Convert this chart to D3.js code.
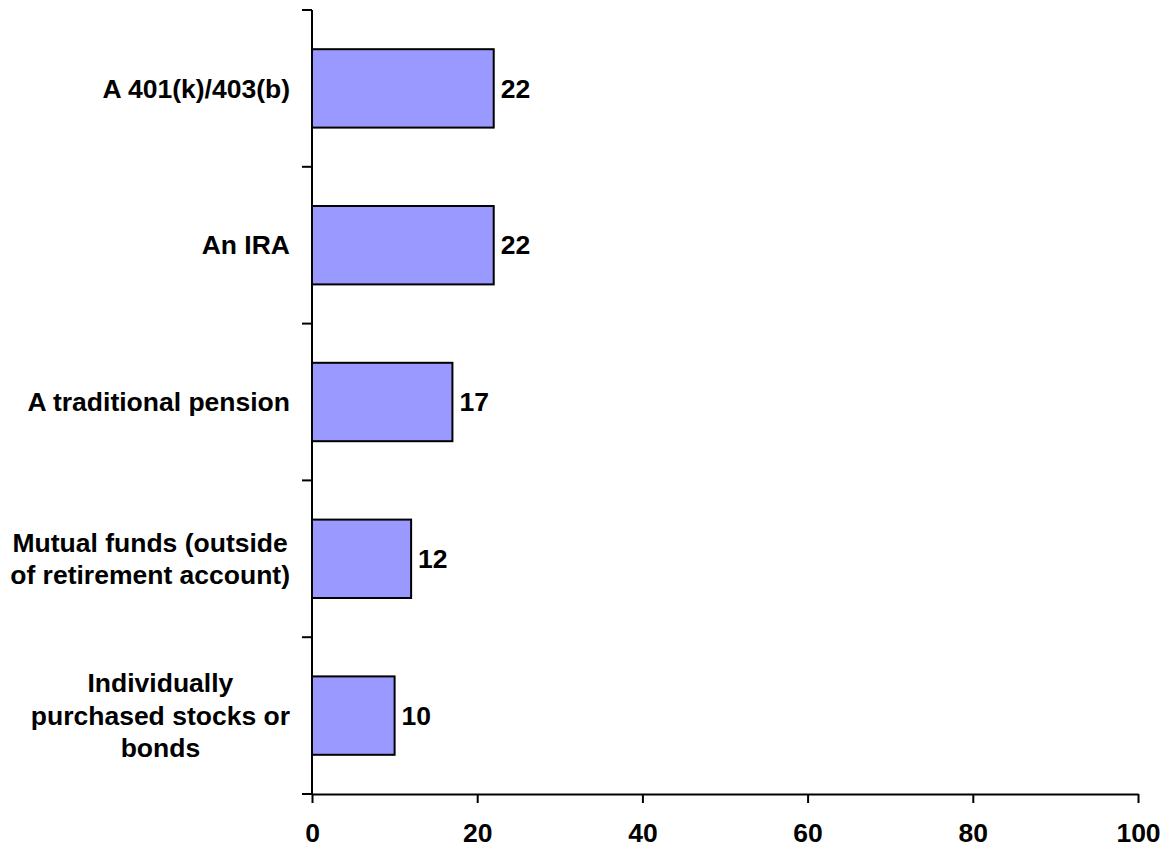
<!DOCTYPE html>
<html>
<head>
<meta charset="utf-8">
<script src="https://cdn.jsdelivr.net/npm/d3@7"></script>
<style>
  html, body { margin: 0; padding: 0; background: #fff; }
  svg text { font-family: Arial, "Liberation Sans", sans-serif; font-weight: bold; fill: #000; }
</style>
</head>
<body>
<svg id="chart" width="1171" height="848"></svg>
<script>
// Categories, top to bottom, with the line breaks used for their labels
const categories = [
  "A 401(k)/403(b)",
  "An IRA",
  "A traditional pension",
  "Mutual funds (outside of retirement account)",
  "Individually purchased stocks or bonds"
];
const categoryLines = [
  ["A 401(k)/403(b)"],
  ["An IRA"],
  ["A traditional pension"],
  ["Mutual funds (outside", "of retirement account)"],
  ["Individually", "purchased stocks or", "bonds"]
];
const values = [22, 22, 17, 12, 10];
const xTicks = [0, 20, 40, 60, 80, 100];

const W = 1171, H = 848;
const margin = { top: 10, right: 33, bottom: 54, left: 312 };
const fontSize = 26.5;

const svg = d3.select("#chart");

const x = d3.scaleLinear().domain([0, 100]).range([margin.left, W - margin.right]);
const y = d3.scaleBand().domain(categories)
  .range([margin.top, H - margin.bottom])
  .paddingInner(0.5).paddingOuter(0.25);

// Bars
svg.append("g").selectAll("rect")
  .data(categories)
  .join("rect")
  .attr("x", x(0))
  .attr("y", d => y(d))
  .attr("width", (d, i) => x(values[i]) - x(0))
  .attr("height", y.bandwidth())
  .attr("fill", "#9999FF")
  .attr("stroke", "#000")
  .attr("stroke-width", 2);

// Value labels
svg.append("g").selectAll("text")
  .data(categories)
  .join("text")
  .attr("x", (d, i) => x(values[i]) + 7)
  .attr("y", d => y(d) + y.bandwidth() / 2)
  .attr("dy", "0.35em")
  .style("font-size", fontSize + "px")
  .text((d, i) => values[i]);

// X axis
const xAxis = svg.append("g")
  .attr("transform", `translate(0,${H - margin.bottom})`)
  .call(d3.axisBottom(x).tickValues(xTicks).tickSize(9).tickPadding(20).tickSizeOuter(0));
xAxis.select(".domain").attr("stroke", "#000").attr("stroke-width", 2);
xAxis.selectAll(".tick line").attr("stroke", "#000").attr("stroke-width", 2);
xAxis.selectAll(".tick text")
  .style("font-size", fontSize + "px")
  .attr("font-family", null)
  .attr("fill", "#000");

// Y axis: line with ticks on the category boundaries
const yAxis = svg.append("g").attr("transform", `translate(${x(0)},0)`);
yAxis.append("line")
  .attr("y1", margin.top).attr("y2", H - margin.bottom)
  .attr("stroke", "#000").attr("stroke-width", 2);
const step = y.step();
const boundaries = categories.map(c => y(c) - (step - y.bandwidth()) / 2)
  .concat([y(categories[categories.length - 1]) + y.bandwidth() + (step - y.bandwidth()) / 2]);
yAxis.selectAll(".ytick")
  .data(boundaries)
  .join("line")
  .attr("class", "ytick")
  .attr("x1", -10).attr("x2", 0)
  .attr("y1", d => d).attr("y2", d => d)
  .attr("stroke", "#000").attr("stroke-width", 2);

// Category labels: block right-aligned to the axis, lines centred within it
const labelRight = x(0) - 22;
const lineHeight = 32.5;
const labels = svg.append("g");
categories.forEach((c, i) => {
  const lines = categoryLines[i];
  const t = labels.append("text").style("font-size", fontSize + "px").attr("text-anchor", "middle");
  const cy = y(c) + y.bandwidth() / 2;
  const spans = lines.map((ln, j) => t.append("tspan")
    .attr("y", cy + (j - (lines.length - 1) / 2) * lineHeight)
    .attr("dy", "0.35em")
    .text(ln));
  const maxW = d3.max(spans, s => s.node().getComputedTextLength());
  spans.forEach(s => s.attr("x", labelRight - maxW / 2));
});
</script>
</body>
</html>
